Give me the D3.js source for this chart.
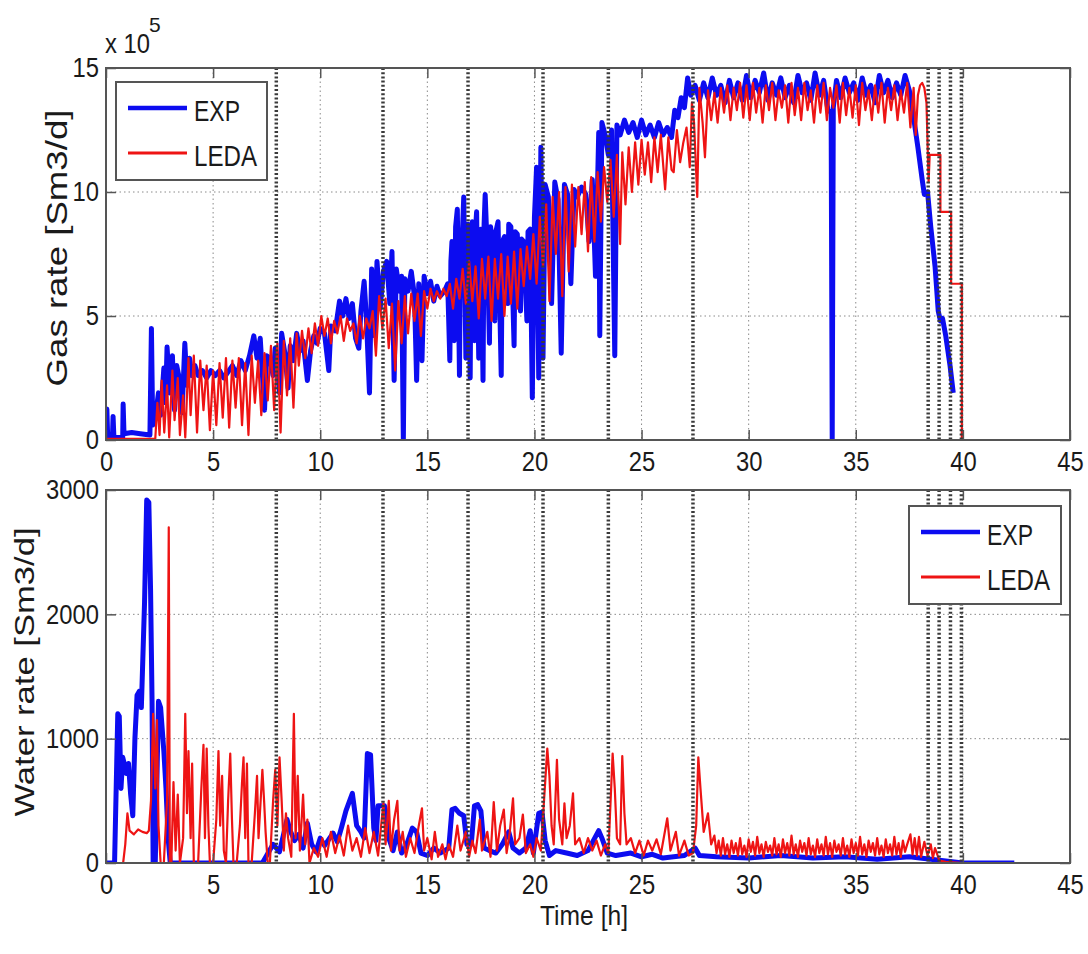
<!DOCTYPE html>
<html>
<head>
<meta charset="utf-8">
<script src="https://cdn.jsdelivr.net/npm/d3@7"></script>
<style>
body { margin: 0; background: #fff; }
text { font-family: "Liberation Sans", Arial, sans-serif; fill: #1a1a1a; }
</style>
</head>
<body>
<svg width="1088" height="954"></svg>
<script>
var seriesNames = ['EXP', 'LEDA'];
var xTicks = [0, 5, 10, 15, 20, 25, 30, 35, 40, 45];
var gasTicks = [0, 5, 10, 15];
var waterTicks = [0, 1000, 2000, 3000];
// vertical event markers [h]
var eventTimes = [7.95, 12.93, 16.9, 20.4, 23.45, 27.4, 38.38, 38.89, 39.42, 39.93];

// gas rate, x 10^5 Sm3/d : [time h, value]
var gasExp = [[0,0.1],[0.04,1.25],[0.08,0.1],[0.3,0.1],[0.33,0.95],[0.37,0.1],[0.78,0.1],[0.8,1.45],[0.84,0.25],
  [1.2,0.3],[1.6,0.25],[2.05,0.2],[2.12,4.5],[2.18,0.6],[2.3,0.9],[2.45,1.9],[2.55,1.0],[2.7,2.9],[2.78,1.5],
  [2.85,3.75],[2.98,1.9],[3.1,3.4],[3.2,1.2],[3.3,3.0],[3.42,2.5],[3.55,1.1],[3.68,3.9],[3.78,2.2],[3.9,3.3],
  [4.0,2.6],[4.15,3.0],[4.3,2.6],[4.5,2.8],[4.7,2.5],[4.9,2.8],[5.1,2.6],[5.3,2.8],[5.5,2.5],[5.7,2.75],
  [5.9,3.0],[6.1,2.6],[6.3,3.2],[6.5,2.8],[6.7,3.4],[6.9,4.2],[7.05,3.3],[7.2,4.1],[7.4,1.2],[7.5,3.4],
  [7.65,3.3],[7.8,2.6],[7.9,3.7],[8.0,3.0],[8.1,1.9],[8.2,4.3],[8.35,3.5],[8.5,2.1],[8.6,3.8],[8.75,3.2],
  [8.9,4.3],[9.05,3.6],[9.2,4.0],[9.4,2.4],[9.55,3.6],[9.7,4.2],[9.85,3.9],[10.0,4.5],[10.2,4.3],[10.4,2.8],
  [10.5,4.6],[10.7,4.4],[10.9,5.6],[11.05,5.0],[11.2,5.7],[11.35,4.9],[11.5,5.5],[11.65,4.1],[11.8,3.7],
  [11.9,5.2],[12.05,6.4],[12.15,5.0],[12.3,1.9],[12.4,6.9],[12.55,4.2],[12.65,7.2],[12.8,5.3],[12.95,6.8],
  [13.1,7.2],[13.25,5.5],[13.35,7.6],[13.45,2.4],[13.55,6.9],[13.7,6.0],[13.8,6.6],[13.88,0],[13.95,6.5],
  [14.1,6.0],[14.25,6.8],[14.4,5.8],[14.5,2.4],[14.6,6.3],[14.75,3.2],[14.85,6.6],[15.0,5.9],[15.15,6.4],
  [15.3,5.6],[15.45,6.2],[15.6,5.8],[15.8,6.0],[15.95,6.3],[16.05,3.2],[16.1,7.2],[16.15,8.0],[16.25,4.0],
  [16.32,8.6],[16.4,9.3],[16.5,2.6],[16.55,8.2],[16.6,7.5],[16.7,9.8],[16.8,3.3],[16.85,8.4],[16.9,8.7],
  [17.0,2.5],[17.05,8.1],[17.1,8.8],[17.2,4.0],[17.25,8.5],[17.3,9.2],[17.4,3.3],[17.45,8.2],[17.5,8.5],
  [17.6,2.4],[17.65,8.7],[17.7,9.9],[17.8,7.6],[17.9,3.9],[17.95,8.6],[18.0,8.3],[18.15,4.8],[18.2,8.4],
  [18.3,8.8],[18.45,2.6],[18.5,8.0],[18.6,8.2],[18.75,5.5],[18.8,8.7],[18.9,8.6],[19.05,3.8],[19.1,8.4],
  [19.2,8.3],[19.35,5.2],[19.4,8.1],[19.5,8.0],[19.65,4.8],[19.7,8.4],[19.8,8.5],[19.9,1.7],[20.0,9.0],
  [20.1,11.0],[20.2,2.5],[20.3,11.8],[20.4,3.3],[20.5,10.3],[20.65,9.8],[20.8,5.5],[20.95,10.4],[21.1,9.7],
  [21.25,3.5],[21.4,10.3],[21.55,9.9],[21.7,6.3],[21.85,10.1],[22.0,9.8],[22.2,10.2],[22.4,9.9],[22.55,8.0],
  [22.7,10.5],[22.85,6.6],[23.0,12.4],[23.05,4.2],[23.15,12.8],[23.3,12.3],[23.45,11.5],[23.6,12.5],
  [23.75,3.4],[23.85,12.7],[24.0,12.3],[24.2,12.9],[24.4,12.4],[24.6,12.8],[24.8,12.2],[25.0,12.9],
  [25.2,12.3],[25.4,12.7],[25.6,12.2],[25.8,12.8],[26.0,12.3],[26.2,12.6],[26.4,12.2],[26.55,13.3],
  [26.7,13.0],[26.85,13.8],[27.0,13.4],[27.15,14.6],[27.3,13.9],[27.5,14.3],[27.7,13.7],[27.9,14.4],
  [28.1,13.8],[28.3,14.6],[28.5,13.9],[28.7,14.3],[28.9,13.6],[29.1,14.5],[29.3,13.8],[29.5,14.4],
  [29.7,13.7],[29.9,14.7],[30.1,13.8],[30.3,14.5],[30.5,14.0],[30.7,14.8],[30.9,13.7],[31.1,14.4],
  [31.3,13.9],[31.5,14.6],[31.7,13.8],[31.9,14.3],[32.1,13.6],[32.3,14.7],[32.5,14.0],[32.7,14.4],
  [32.9,13.7],[33.1,14.8],[33.3,13.9],[33.5,14.5],[33.7,13.3],[33.85,13.2],[33.9,0],[33.95,13.4],
  [34.1,14.5],[34.3,13.8],[34.5,14.6],[34.7,14.0],[34.9,14.4],[35.1,13.7],[35.3,14.6],[35.5,13.9],
  [35.7,14.3],[35.9,13.6],[36.1,14.7],[36.3,14.0],[36.5,14.5],[36.7,13.8],[36.9,14.4],[37.1,13.9],
  [37.3,14.7],[37.5,14.1],[37.7,13.0],[37.9,11.8],[38.1,10.5],[38.2,9.9],[38.35,10.0],[38.5,8.6],
  [38.7,7.0],[38.85,5.2],[38.95,4.8],[39.05,4.9],[39.2,4.2],[39.4,3.0],[39.55,1.9]];

var gasLeda = [[0,0.05],[2.3,0.05],[2.4,1.5],[2.5,0.2],[2.6,2.4],[2.72,0.3],[2.85,2.2],[2.95,0.1],[3.1,2.8],
  [3.2,0.8],[3.35,2.5],[3.45,0.2],[3.6,1.8],[3.7,0.1],[3.85,3.3],[3.95,1.0],[4.1,3.4],[4.25,0.3],[4.4,3.2],
  [4.55,1.2],[4.7,3.0],[4.85,0.4],[5.0,2.8],[5.15,0.6],[5.3,3.1],[5.45,0.9],[5.6,3.3],[5.75,0.5],[5.9,3.2],
  [6.05,1.3],[6.2,3.3],[6.35,0.6],[6.5,3.1],[6.65,0.2],[6.8,3.4],[6.95,1.5],[7.1,3.2],[7.25,1.0],[7.4,3.5],
  [7.55,1.6],[7.7,3.8],[7.85,1.2],[8.0,3.9],[8.15,0.3],[8.3,4.0],[8.45,1.8],[8.6,4.1],[8.75,1.3],[8.9,4.3],
  [9.0,3.0],[9.15,4.4],[9.3,3.3],[9.45,4.5],[9.6,3.5],[9.75,4.7],[9.9,3.8],[10.05,5.0],[10.2,4.2],[10.35,4.9],
  [10.5,3.9],[10.65,4.8],[10.8,4.3],[10.95,5.0],[11.1,4.0],[11.25,4.9],[11.4,4.4],[11.55,4.7],[11.7,3.9],
  [11.85,5.0],[12.0,4.1],[12.15,4.9],[12.3,4.5],[12.45,5.2],[12.6,3.4],[12.75,5.8],[12.9,4.5],[13.05,5.7],
  [13.2,3.7],[13.35,5.5],[13.5,2.8],[13.65,5.6],[13.8,3.9],[13.95,5.8],[14.1,4.3],[14.25,5.9],[14.4,4.8],
  [14.55,5.9],[14.7,4.2],[14.85,6.0],[15.0,5.3],[15.15,6.1],[15.3,5.6],[15.45,6.0],[15.6,5.7],[15.75,6.1],
  [15.9,5.8],[16.05,6.3],[16.2,5.3],[16.35,6.5],[16.5,5.7],[16.65,6.9],[16.8,5.5],[16.95,7.2],[17.1,5.6],
  [17.25,7.0],[17.4,4.9],[17.55,7.3],[17.7,5.7],[17.85,7.4],[18.0,4.8],[18.15,7.3],[18.3,5.7],[18.45,7.5],
  [18.6,5.0],[18.75,7.4],[18.9,5.5],[19.05,7.6],[19.2,5.3],[19.35,7.7],[19.5,6.2],[19.65,7.8],[19.8,6.5],
  [19.95,8.3],[20.1,6.3],[20.25,9.0],[20.4,7.0],[20.55,9.5],[20.7,5.6],[20.85,9.8],[21.0,7.5],[21.15,10.0],
  [21.3,5.8],[21.45,10.2],[21.6,6.8],[21.75,10.3],[21.9,7.8],[22.05,10.2],[22.2,8.3],[22.35,10.4],[22.5,7.6],
  [22.65,10.6],[22.8,8.0],[22.95,10.8],[23.1,8.8],[23.25,11.0],[23.4,9.6],[23.55,11.3],[23.7,9.0],[23.85,11.5],
  [24.0,7.9],[24.1,11.6],[24.25,9.5],[24.4,11.8],[24.55,10.0],[24.7,12.0],[24.85,10.3],[25.0,12.1],[25.15,10.7],
  [25.3,12.0],[25.45,10.4],[25.6,12.2],[25.75,10.8],[25.9,12.3],[26.1,10.1],[26.25,12.2],[26.4,10.9],
  [26.5,10.8],[26.65,12.5],[26.8,11.2],[26.95,12.0],[27.1,12.6],[27.25,11.0],[27.35,13.6],[27.45,12.8],
  [27.6,9.8],[27.7,14.2],[27.85,12.8],[27.96,11.4],[28.1,14.1],[28.25,12.9],[28.4,14.0],[28.55,12.8],
  [28.7,14.2],[28.85,13.2],[29.0,14.3],[29.15,12.9],[29.3,14.2],[29.45,13.3],[29.6,14.4],[29.75,13.0],
  [29.9,14.3],[30.05,12.9],[30.2,14.4],[30.35,13.2],[30.5,14.2],[30.65,12.8],[30.8,14.3],[30.95,13.3],
  [31.1,14.4],[31.25,12.9],[31.4,14.1],[31.55,13.4],[31.7,14.3],[31.85,12.8],[32.0,14.4],[32.15,13.1],
  [32.3,14.2],[32.45,12.9],[32.6,14.4],[32.75,13.3],[32.9,14.1],[33.05,12.8],[33.2,14.3],[33.35,13.2],
  [33.5,14.4],[33.65,12.9],[33.8,14.2],[33.95,13.4],[34.1,14.3],[34.25,12.8],[34.4,14.4],[34.55,13.1],
  [34.7,14.2],[34.85,13.0],[35.0,14.3],[35.15,12.7],[35.3,14.4],[35.45,13.3],[35.6,14.1],[35.75,12.9],
  [35.9,14.3],[36.05,13.2],[36.2,14.4],[36.35,12.8],[36.5,14.2],[36.65,13.3],[36.8,14.3],[36.95,12.9],
  [37.1,14.1],[37.25,13.2],[37.4,14.4],[37.55,12.6],[37.7,14.2],[37.8,12.3],[37.9,13.9],[38.0,14.3],
  [38.1,14.4],[38.2,14.2],[38.3,13.6],[38.4,10.4],[38.45,11.5],[38.95,11.5],[38.95,9.2],[39.45,9.2],
  [39.45,6.3],[39.95,6.3],[39.95,0],[42.4,0]];

// water rate, Sm3/d : [time h, value]
var waterExp = [[0,0],[0.4,0],[0.55,1200],[0.62,1180],[0.7,600],[0.78,850],[0.85,800],[0.95,720],[1.05,800],
  [1.15,550],[1.25,380],[1.35,1000],[1.45,1350],[1.55,1380],[1.65,1250],[1.8,2100],[1.9,2920],[2.0,2900],
  [2.08,2200],[2.15,1300],[2.2,0],[2.3,0],[2.45,1300],[2.55,1250],[2.7,900],[2.8,600],[2.9,200],[3.0,0],
  [7.3,0],[7.5,60],[7.8,150],[8.1,90],[8.45,350],[8.6,260],[8.8,180],[9.0,230],[9.2,120],[9.4,320],[9.6,150],
  [9.8,90],[10.0,200],[10.2,140],[10.6,240],[10.8,170],[11.0,290],[11.2,420],[11.5,560],[11.7,300],[11.9,250],
  [12.05,200],[12.2,880],[12.35,870],[12.5,280],[12.6,180],[12.7,460],[13.0,460],[13.2,200],[13.4,100],
  [13.6,250],[13.8,80],[14.0,130],[14.3,280],[14.5,250],[14.7,80],[15.0,60],[15.3,120],[15.6,80],[16.0,120],
  [16.15,430],[16.3,440],[16.5,400],[16.7,380],[16.85,150],[17.05,150],[17.2,460],[17.35,470],[17.5,420],
  [17.65,120],[17.9,100],[18.2,80],[18.5,150],[18.8,250],[19.0,120],[19.3,80],[19.6,120],[19.8,260],
  [19.95,80],[20.2,400],[20.35,410],[20.5,180],[20.7,60],[21.0,100],[21.5,80],[22.0,60],[22.5,100],
  [23.0,260],[23.15,200],[23.4,80],[23.8,60],[24.5,80],[25.0,50],[25.5,70],[26.0,40],[27.0,60],[27.5,120],
  [27.7,60],[28.5,50],[30.0,40],[31.5,60],[33.0,40],[34.5,50],[36.0,30],[37.5,50],[38.5,30],[39.0,20],
  [40.0,0],[42.4,0]];

var waterLeda = [[0,0],[0.8,0],[0.9,150],[1.0,400],[1.1,260],[1.3,230],[1.5,270],[1.7,250],[1.9,240],[2.0,260],
  [2.1,500],[2.2,1200],[2.3,600],[2.38,1150],[2.45,300],[2.55,0],[2.7,0],[2.85,500],[2.93,2700],[2.98,0],
  [3.05,0],[3.15,650],[3.25,100],[3.35,550],[3.45,0],[3.6,200],[3.7,1200],[3.78,400],[3.85,900],[3.95,200],
  [4.02,800],[4.1,0],[4.3,0],[4.45,600],[4.55,950],[4.62,200],[4.7,920],[4.78,300],[4.85,0],[5.0,0],
  [5.15,350],[5.25,900],[5.33,300],[5.42,700],[5.5,100],[5.6,0],[5.7,500],[5.8,880],[5.88,350],[5.95,0],
  [6.1,0],[6.25,300],[6.35,650],[6.42,850],[6.5,200],[6.58,800],[6.65,0],[6.8,0],[6.95,400],[7.05,700],
  [7.12,200],[7.3,750],[7.38,500],[7.45,250],[7.55,0],[7.65,0],[7.8,500],[7.9,750],[8.0,300],[8.1,850],
  [8.2,500],[8.3,100],[8.4,400],[8.5,200],[8.65,50],[8.77,1200],[8.85,200],[8.95,700],[9.05,100],[9.2,550],
  [9.3,150],[9.4,350],[9.5,0],[9.7,120],[9.9,50],[10.1,200],[10.3,50],[10.5,250],[10.7,80],[10.9,220],
  [11.1,60],[11.3,300],[11.5,100],[11.7,200],[11.9,50],[12.1,280],[12.3,80],[12.5,250],[12.7,60],[12.95,480],
  [13.05,150],[13.2,500],[13.3,100],[13.45,350],[13.6,500],[13.7,100],[13.85,250],[14.0,50],[14.2,200],
  [14.4,80],[14.6,300],[14.75,440],[14.85,100],[15.0,200],[15.2,30],[15.35,250],[15.5,50],[15.7,150],
  [15.85,30],[16.0,150],[16.2,50],[16.4,300],[16.55,100],[16.8,250],[16.95,50],[17.1,180],[17.25,80],
  [17.45,350],[17.55,100],[17.8,250],[17.95,50],[18.1,490],[18.25,100],[18.4,300],[18.57,430],[18.7,80],
  [18.85,250],[19.0,520],[19.1,150],[19.3,200],[19.46,390],[19.6,80],[19.8,150],[19.95,50],[20.1,200],
  [20.3,100],[20.6,920],[20.7,700],[20.8,300],[20.9,150],[21.05,830],[21.15,350],[21.3,150],[21.4,480],
  [21.5,200],[21.65,300],[21.8,560],[21.9,150],[22.1,200],[22.3,80],[22.5,200],[22.7,100],[22.9,180],
  [23.1,60],[23.3,150],[23.45,80],[23.65,880],[23.75,600],[23.85,200],[24.0,150],[24.1,860],[24.2,400],
  [24.3,150],[24.5,200],[24.7,80],[24.9,180],[25.1,60],[25.3,180],[25.5,100],[25.7,190],[25.9,70],[26.2,360],
  [26.35,100],[26.6,250],[26.75,60],[27.0,180],[27.2,60],[27.4,80],[27.55,300],[27.65,850],[27.75,600],
  [27.9,250],[28.1,400],[28.25,150],[28.4,220],[28.5,80],[28.6,180],[28.7,60],[28.8,200],[28.9,70],[29.0,150],
  [29.1,50],[29.2,180],[29.3,80],[29.4,160],[29.5,60],[29.6,200],[29.7,70],[29.8,140],[29.9,50],[30.0,190],
  [30.1,90],[30.2,170],[30.3,60],[30.4,210],[30.5,80],[30.6,150],[30.7,50],[30.8,170],[30.9,90],[31.0,140],
  [31.1,60],[31.2,200],[31.3,70],[31.4,150],[31.5,50],[31.6,190],[31.7,80],[31.8,160],[31.9,60],[32.0,220],
  [32.1,70],[32.2,150],[32.3,50],[32.4,180],[32.5,90],[32.6,160],[32.7,60],[32.8,200],[32.9,70],[33.0,140],
  [33.1,50],[33.2,190],[33.3,80],[33.4,150],[33.5,60],[33.6,210],[33.7,70],[33.8,160],[33.9,50],[34.0,180],
  [34.1,90],[34.2,150],[34.3,60],[34.4,200],[34.5,70],[34.6,140],[34.7,50],[34.8,190],[34.9,80],[35.0,160],
  [35.1,60],[35.2,210],[35.3,70],[35.4,150],[35.5,50],[35.6,180],[35.7,90],[35.8,160],[35.9,60],[36.0,200],
  [36.1,70],[36.2,140],[36.3,50],[36.4,190],[36.5,80],[36.6,150],[36.7,60],[36.8,210],[36.9,70],[37.0,160],
  [37.1,50],[37.2,180],[37.3,90],[37.4,150],[37.55,230],[37.65,70],[37.75,200],[37.85,60],[37.95,210],
  [38.05,50],[38.2,170],[38.35,60],[38.5,150],[38.6,40],[38.7,120],[38.9,20],[39.2,10],[40,0],[42.4,0]];

var colors = { EXP: '#0c0cf0', LEDA: '#ee1414' };
var widths = { EXP: 5, LEDA: 2.2 };
var sx = 0.85; // text in the picture is horizontally narrow

var svg = d3.select('svg');
svg.append('rect').attr('width', 1088).attr('height', 954).attr('fill', '#fff');

var xScale = d3.scaleLinear().domain([0, 45]).range([106, 1070]);

function drawPanel(id, top, bottom, yDomain, yTicks, exp, leda) {
    var yScale = d3.scaleLinear().domain(yDomain).range([bottom, top]);
    var g = svg.append('g');

    g.append('clipPath').attr('id', id)
        .append('rect').attr('x', 106).attr('y', top).attr('width', 964).attr('height', bottom - top);

    // dotted grid
    var grid = g.append('g').attr('stroke', '#8a8a8a').attr('stroke-width', 1).attr('stroke-dasharray', '1.5,3');
    xTicks.slice(1, -1).forEach(function(t) {
        grid.append('line').attr('x1', xScale(t)).attr('x2', xScale(t)).attr('y1', top).attr('y2', bottom);
    });
    yTicks.slice(1, -1).forEach(function(v) {
        grid.append('line').attr('x1', 106).attr('x2', 1070).attr('y1', yScale(v)).attr('y2', yScale(v));
    });

    var line = d3.line().x(function(d){ return xScale(d[0]); }).y(function(d){ return yScale(d[1]); });
    var plot = g.append('g').attr('clip-path', 'url(#' + id + ')');
    [[exp, 'EXP'], [leda, 'LEDA']].forEach(function(s) {
        plot.append('path').datum(s[0]).attr('d', line)
            .attr('fill', 'none').attr('stroke', colors[s[1]]).attr('stroke-width', widths[s[1]])
            .attr('stroke-linejoin', 'round');
    });

    // event markers
    eventTimes.forEach(function(t) {
        plot.append('line').attr('x1', xScale(t)).attr('x2', xScale(t)).attr('y1', top).attr('y2', bottom)
            .attr('stroke', '#3a3a3a').attr('stroke-width', 3.5).attr('stroke-dasharray', '2,2.2');
    });

    // box
    g.append('rect').attr('x', 106).attr('y', top).attr('width', 964).attr('height', bottom - top)
        .attr('fill', 'none').attr('stroke', '#555').attr('stroke-width', 2);

    // ticks, all pointing inward
    var xb = g.append('g').attr('transform', 'translate(0,' + bottom + ')')
        .call(d3.axisBottom(xScale).tickValues(xTicks).tickSize(-10).tickPadding(11));
    g.append('g').attr('transform', 'translate(0,' + top + ')')
        .call(d3.axisTop(xScale).tickValues(xTicks).tickSize(-10).tickFormat(''));
    var yl = g.append('g').attr('transform', 'translate(106,0)')
        .call(d3.axisLeft(yScale).tickValues(yTicks).tickSize(-10).tickPadding(7).tickFormat(d3.format('d')));
    g.append('g').attr('transform', 'translate(1070,0)')
        .call(d3.axisRight(yScale).tickValues(yTicks).tickSize(-10).tickFormat(''));

    g.selectAll('.domain').remove();
    g.selectAll('.tick line').attr('stroke', '#555').attr('stroke-width', 1.5);
    [xb, yl].forEach(function(a) {
        a.attr('font-family', null).attr('font-size', 28);
        a.selectAll('text').attr('fill', '#1a1a1a').attr('transform', 'scale(' + sx + ',1)');
    });
    yl.selectAll('text').attr('x', -7 / sx);
    return yScale;
}

function legend(x0, y0, w, h) {
    var g = svg.append('g');
    g.append('rect').attr('x', x0).attr('y', y0).attr('width', w).attr('height', h)
        .attr('fill', '#fff').attr('stroke', '#555').attr('stroke-width', 2);
    seriesNames.forEach(function(name, i) {
        var yy = y0 + 26 + i * 45;
        g.append('line').attr('x1', x0 + 12).attr('x2', x0 + 71).attr('y1', yy).attr('y2', yy)
            .attr('stroke', colors[name]).attr('stroke-width', name === 'EXP' ? 4.5 : 3);
        g.append('text').attr('x', x0 + 78).attr('y', yy + 13).attr('font-size', 30)
            .attr('textLength', name === 'EXP' ? 46 : 63).attr('lengthAdjust', 'spacingAndGlyphs')
            .text(name);
    });
}

drawPanel('clipGas', 68, 440, [0, 15], gasTicks, gasExp, gasLeda);
drawPanel('clipWater', 490, 863, [0, 3000], waterTicks, waterExp, waterLeda);

legend(116, 82, 151, 98);
legend(909, 506, 152, 98);

// exponent label
svg.append('text').attr('transform', 'translate(105,53) scale(' + sx + ',1)').attr('font-size', 28).text('x 10');
svg.append('text').attr('x', 149).attr('y', 32).attr('font-size', 21).text('5');

// axis titles
svg.append('text').attr('transform', 'translate(67,248) rotate(-90)').attr('text-anchor', 'middle')
    .attr('font-size', 30).attr('textLength', 277).attr('lengthAdjust', 'spacingAndGlyphs').text('Gas rate [Sm3/d]');
svg.append('text').attr('transform', 'translate(34,672) rotate(-90)').attr('text-anchor', 'middle')
    .attr('font-size', 28).attr('textLength', 289).attr('lengthAdjust', 'spacingAndGlyphs').text('Water rate [Sm3/d]');
svg.append('text').attr('x', 584).attr('y', 925).attr('text-anchor', 'middle')
    .attr('font-size', 28).attr('textLength', 88).attr('lengthAdjust', 'spacingAndGlyphs').text('Time [h]');
</script>
</body>
</html>
